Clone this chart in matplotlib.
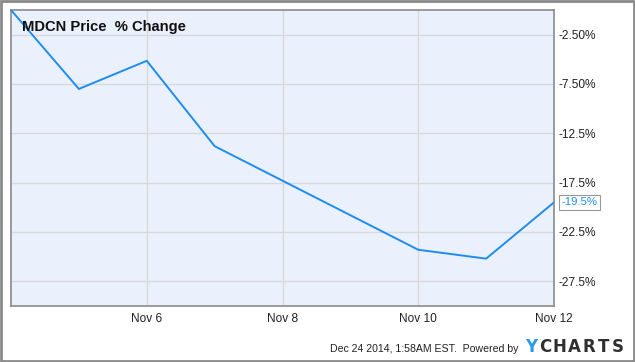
import numpy as np
import pandas as pd
import matplotlib
matplotlib.use("Agg")
import matplotlib.pyplot as plt
from matplotlib.patches import Rectangle

plt.rcParams['font.family'] = ['Liberation Sans', 'DejaVu Sans']

# data
dates = pd.to_datetime(["2014-11-04", "2014-11-05", "2014-11-06", "2014-11-07",
                        "2014-11-10", "2014-11-11", "2014-11-12"])
pct_change = [0.0, -8.0, -5.15, -13.8, -24.3, -25.2, -19.5]

y_ticks = [-2.5, -7.5, -12.5, -17.5, -22.5, -27.5]
y_tick_labels = ["-2.50%", "-7.50%", "-12.5%", "-17.5%", "-22.5%", "-27.5%"]
x_ticks = pd.to_datetime(["2014-11-06", "2014-11-08", "2014-11-10", "2014-11-12"])
x_tick_labels = ["Nov 6", "Nov 8", "Nov 10", "Nov 12"]

title = "MDCN Price  % Change"
last_label = "-19.5%"
footer = "Dec 24 2014, 1:58AM EST.  Powered by"
brand = "CHARTS"

line_color = "#1e8cf0"
grid_color = "#d9d9d9"
frame_color = "#8a8a8a"

fig = plt.figure(figsize=(6.35, 3.62), dpi=100)
ax = fig.add_axes([11 / 635, 1 - 306 / 362, 543 / 635, 296 / 362])
ax.set_facecolor("#eaf1fc")

ax.plot(dates, pct_change, color=line_color, lw=1.4, solid_joinstyle="miter", zorder=3)

ax.set_xlim(pd.Timestamp("2014-11-04"), pd.Timestamp("2014-11-12"))
ax.set_ylim(-30, 0)

ax.set_yticks(y_ticks)
ax.set_yticklabels(y_tick_labels)
ax.set_xticks(x_ticks)
ax.set_xticklabels(x_tick_labels)
ax.yaxis.tick_right()
ax.tick_params(axis="both", length=0, labelsize=8.6, colors="#222222")
ax.tick_params(axis="y", pad=3.5)
ax.tick_params(axis="x", pad=5)
ax.grid(True, color=grid_color, lw=1)
ax.set_axisbelow(True)
for s in ax.spines.values():
    s.set_color(frame_color)
    s.set_linewidth(1.2)

ax.text(0.02, 0.965, title, transform=ax.transAxes, ha="left", va="top",
        fontsize=10.6, fontweight="bold", color="#111111")

# value tag for the last point
ax.annotate(last_label, xy=(dates[-1], pct_change[-1]), xytext=(5.5, 0),
            textcoords="offset points", ha="left", va="center",
            fontsize=8.2, color=line_color, annotation_clip=False,
            bbox=dict(boxstyle="square,pad=0.25", fc="white", ec="#999999", lw=0.8))

fig.text(518 / 635, 1 - 349 / 362, footer, ha="right", va="center",
         fontsize=7.6, color="#222222")
fig.text(525 / 635, 1 - 347.5 / 362, "Y", ha="left", va="center",
         fontsize=12, fontweight="bold", color="#2a9ae6", family="DejaVu Sans")
for i, ch in enumerate(brand):
    fig.text((545 + i * 14.6) / 635, 1 - 347.5 / 362, ch, ha="center", va="center",
             fontsize=12, fontweight="bold", color="#2f2f2f", family="DejaVu Sans")

fig.patches.append(Rectangle((0.001, 0.002), 0.997, 0.996, transform=fig.transFigure,
                             fill=False, ec="#8a8a8a", lw=2))

fig.savefig("out.png", dpi=100)
